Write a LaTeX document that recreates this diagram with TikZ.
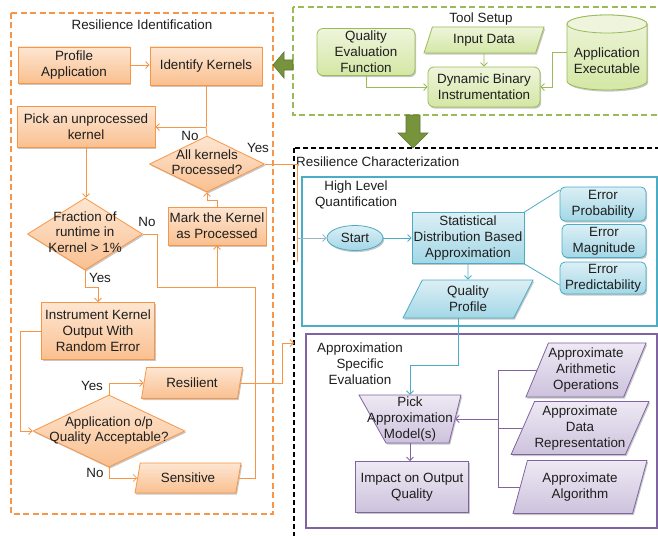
\documentclass[tikz,border=0pt]{standalone}
\usepackage{fontspec}
\setmainfont{Liberation Sans}
\usetikzlibrary{shapes.geometric,arrows.meta,shadows,calc}

\definecolor{orLine}{HTML}{F79646}
\definecolor{orTop}{HTML}{FDE6D2}
\definecolor{orBot}{HTML}{FAC090}
\definecolor{grLine}{HTML}{9BBB59}
\definecolor{grTop}{HTML}{EEF5DC}
\definecolor{grBot}{HTML}{D4E7A4}
\definecolor{grDark}{HTML}{77933C}
\definecolor{grEdge}{HTML}{5E7530}
\definecolor{blLine}{HTML}{4BACC6}
\definecolor{blTop}{HTML}{DCEFF5}
\definecolor{blBot}{HTML}{A3D7E6}
\definecolor{grayLink}{HTML}{9AB6C4}
\definecolor{puLine}{HTML}{8064A2}
\definecolor{puTop}{HTML}{EEE9F4}
\definecolor{puBot}{HTML}{CDC2DD}
\definecolor{ink}{HTML}{1E1E1E}

% text that takes no room, so the shape keeps its set size
\newcommand{\dtxt}[1]{\makebox[0pt]{\smash{\raisebox{-0.25em}{\begin{tabular}{@{}c@{}}#1\end{tabular}}}}}

\tikzset{
  txt/.style={font=\fontsize{13.4}{15.8}\selectfont, text=ink, align=center},
  softshadow/.style={drop shadow={shadow xshift=1.2pt, shadow yshift=-1.6pt, opacity=0.22, fill=black}},
  orfill/.style={draw=orLine, line width=0.8pt, top color=orTop, bottom color=orBot, softshadow},
  grfill/.style={draw=grLine, line width=0.8pt, top color=grTop, bottom color=grBot, softshadow},
  blfill/.style={draw=blLine, line width=0.8pt, top color=blTop, bottom color=blBot, softshadow},
  pufill/.style={draw=puLine, line width=0.8pt, top color=puTop, bottom color=puBot, softshadow},
  boxnode/.style={txt, rectangle, inner sep=1pt},
  roundnode/.style={txt, rectangle, rounded corners=6pt, inner sep=1pt},
  dianode/.style={txt, diamond, inner sep=0pt},
  paranode/.style={txt, trapezium, trapezium stretches body=true, inner sep=0pt},
  tip/.style={-{Straight Barb[length=3.5pt,width=7pt]}},
  oline/.style={orLine, line width=0.8pt},
  gline/.style={grLine, line width=0.8pt},
  bline/.style={blLine, line width=0.8pt},
  pline/.style={puLine, line width=0.8pt},
  lbl/.style={txt, inner sep=0pt},
}

\begin{document}
\begin{tikzpicture}[x=1pt,y=-1pt]
\clip (0,0) rectangle (658,535);

% ---------- region frames ----------
\draw[orLine, line width=1.8pt, dash pattern=on 6pt off 3.5pt] (11,13) rectangle (273,514);
\draw[grLine, line width=1.4pt, dash pattern=on 6pt off 3.5pt] (293,7) rectangle (675,115);
\draw[black, line width=1.8pt, dash pattern=on 5pt off 3pt] (294,148) rectangle (675,550);
\draw[blLine, line width=1.4pt] (302,177) rectangle (657,326);
\draw[puLine, line width=1.4pt] (306,334) rectangle (657,528);

% ---------- region titles ----------
\node[lbl] (tRI) at (142,25) {Resilience Identification};
\node[lbl] (tTS) at (481,19) {Tool Setup};
\node[lbl, anchor=west] (tRC) at (296,162) {Resilience Characterization};
\node[lbl] (tHL) at (356,195) {High Level\\Quantification};
\node[lbl] (tAS) at (360,364) {Approximation\\Specific\\Evaluation};

% ---------- block arrows between regions ----------
\draw[grEdge, line width=0.6pt, fill=grDark]
  (293,60) -- (284,60) -- (284,52) -- (273,65) -- (284,78) -- (284,70) -- (293,70) -- cycle;
\draw[grEdge, line width=0.6pt, fill=grDark]
  (406,115) -- (406,133) -- (398,133) -- (413,148) -- (428,133) -- (420,133) -- (420,115) -- cycle;

% ---------- resilience identification ----------
\node[boxnode, orfill, minimum width=112pt, minimum height=36pt] (prof) at (74,65) {Profile\\Application};
\node[boxnode, orfill, minimum width=112pt, minimum height=38pt] (ik) at (206,66) {Identify Kernels};
\node[boxnode, orfill, minimum width=138pt, minimum height=41pt] (pick) at (86,127) {Pick an unprocessed\\kernel};
\node[dianode, orfill, minimum width=115pt, minimum height=56pt] (d1) at (207,164) {\dtxt{All kernels\\Processed?}};
\node[dianode, orfill, minimum width=115pt, minimum height=72pt] (d2) at (85,234) {\dtxt{Fraction of\\runtime in\\Kernel > 1\%}};
\node[boxnode, orfill, minimum width=98pt, minimum height=38pt] (mark) at (217,226) {Mark the Kernel\\as Processed};
\node[boxnode, orfill, minimum width=113pt, minimum height=57pt] (inst) at (98,331) {Instrument Kernel\\Output With\\Random Error};
\node[dianode, orfill, minimum width=152pt, minimum height=72pt] (d3) at (109,431) {\dtxt{Application o/p\\Quality Acceptable?}};
\node[paranode, orfill, trapezium left angle=63, trapezium right angle=117,
      minimum width=101pt, minimum height=31pt] (res) at (192,383) {Resilient};
\node[paranode, orfill, trapezium left angle=62, trapezium right angle=118,
      minimum width=106pt, minimum height=30pt] (sens) at (188,478) {Sensitive};

% ---------- tool setup ----------
\node[roundnode, grfill, minimum width=98pt, minimum height=47pt] (qef) at (366,52) {Quality\\Evaluation\\Function};
\node[paranode, grfill, trapezium left angle=55, trapezium right angle=125,
      minimum width=120pt, minimum height=26pt] (ind) at (484,40) {Input Data};
\node[roundnode, grfill, minimum width=112pt, minimum height=40pt] (dbi) at (484,87) {Dynamic Binary\\Instrumentation};
% executable drawn as a cylinder
\draw[grLine, line width=0.8pt, top color=grTop, bottom color=grBot, softshadow]
  (567,24) -- (567,81) arc[start angle=180, end angle=360, x radius=40pt, y radius=9pt]
  -- (647,24) arc[start angle=0, end angle=180, x radius=40pt, y radius=9pt] -- cycle;
\draw[grLine, line width=0.8pt, fill=grTop] (607,24) ellipse [x radius=40pt, y radius=9pt];
\node[txt, minimum width=80pt, minimum height=58pt, inner sep=0pt] (exe) at (607,61) {Application\\Executable};

% ---------- high level quantification ----------
\node[txt, ellipse, blfill, minimum width=56pt, minimum height=25pt, inner sep=0pt] (start) at (355,238) {Start};
\node[boxnode, blfill, minimum width=112pt, minimum height=51pt] (sdba) at (468,238) {Statistical\\Distribution Based\\Approximation};
\node[roundnode, blfill, rounded corners=5pt, minimum width=86pt, minimum height=34pt] (ep) at (603,204) {Error\\Probability};
\node[roundnode, blfill, rounded corners=5pt, minimum width=84pt, minimum height=33pt] (em) at (604,241) {Error\\Magnitude};
\node[roundnode, blfill, rounded corners=5pt, minimum width=86pt, minimum height=32pt] (epr) at (603,278) {Error\\Predictability};
\node[paranode, blfill, trapezium left angle=53, trapezium right angle=127,
      minimum width=130pt, minimum height=38pt] (qp) at (468,299) {Quality\\Profile};

% ---------- approximation specific evaluation ----------
% model picker: a trapezoid, wide side on top
\coordinate (pamc) at (410,419);
\path[pufill] ($(pamc)+(-51,-24)$) -- ($(pamc)+(51,-24)$) -- ($(pamc)+(39,24)$) -- ($(pamc)+(-24,24)$) -- cycle;
\node[txt, rectangle, inner sep=0pt, minimum width=102pt, minimum height=48pt] (pam) at (pamc) {Pick\\Approximation\\Model(s)};
\node[boxnode, pufill, minimum width=113pt, minimum height=51pt] (imp) at (412,487) {Impact on Output\\Quality};
\node[paranode, pufill, trapezium left angle=63, trapezium right angle=117,
      minimum width=118pt, minimum height=54pt] (aao) at (586,370) {Approximate\\Arithmetic\\Operations};
\node[paranode, pufill, trapezium left angle=62, trapezium right angle=118,
      minimum width=135pt, minimum height=53pt] (adr) at (580,428) {Approximate\\Data\\Representation};
\node[paranode, pufill, trapezium left angle=63, trapezium right angle=117,
      minimum width=134pt, minimum height=53pt] (aa) at (580,487) {Approximate\\Algorithm};

% ---------- connectors: identification ----------
\coordinate (j1) at (ik.south |- pick.east);
\coordinate (jm) at (mark.south |- 0,287);
\coordinate (rcin) at (294,343);
\coordinate (jy) at (297,238);
\draw[oline, tip] (prof.east) -- (prof.east -| ik.west);
\draw[oline] (ik.south) -- (j1);
\draw[oline] (d1.north) -- (j1);
\draw[oline, tip] (j1) -- (pick.east);
\draw[oline, tip] (pick.south) -- (pick.south |- d2.north);
\draw[oline] (d2.east) -| (157,287) -- (jm);
\draw[oline] (sens.east) -| (255,287) -- (jm);
\draw[oline, tip] (jm) -- (mark.south);
\draw[oline, tip] (mark.north) -- ++(0,-6) -| (d1.south);
\draw[oline, tip] (d2.south) -- ++(0,17) -| (inst.north);
\draw[oline, tip] (inst.west) -- (inst.west -| 20,0) |- (d3.west);
\draw[oline, tip] (d3.north) |- (res.west);
\draw[oline, tip] (d3.south) |- (sens.west);
\draw[oline, tip] (res.east) -| (282,343) -- (rcin);
\draw[oline] (d1.east) -| (297,262);
\draw[grayLink, line width=0.8pt, tip] (jy) -- (start.west);

\node[lbl] (lNo1) at (190,136) {No};
\node[lbl] (lYes1) at (258,148) {Yes};
\node[lbl] (lNo2) at (147,222) {No};
\node[lbl] (lYes2) at (100,278) {Yes};
\node[lbl] (lYes3) at (92,386) {Yes};
\node[lbl] (lNo3) at (95,473) {No};

% ---------- connectors: tool setup ----------
\draw[gline, tip] (qef.south) |- (dbi.west);
\draw[gline, tip] (ind.south) -- (dbi.north);
\draw[gline, tip] ([yshift=9pt]exe.west) -- ++(-14,0) |- (dbi.east);

% ---------- connectors: quantification ----------
\draw[bline, tip] (start.east) -- (sdba.west);
\draw[bline] (sdba.north east) -- ([yshift=14pt]ep.west);
\draw[bline] (sdba.south east) -- ([yshift=-7pt]epr.west);
\draw[bline, tip] (sdba.south) -- (qp.north);
\draw[bline, tip] (qp.bottom side) -- (qp.bottom side |- 0,365) -| (pam.north);

% ---------- connectors: evaluation ----------
\coordinate (bus) at (498,0);
\draw[pline, tip] (pam.south) -- (pam.south |- imp.north);
\draw[pline] (aao.west) -- (aao.west -| bus) -- (aa.west -| bus) -- (aa.west);
\draw[pline] (adr.west) -- (adr.west -| bus);
\draw[pline, tip] (pam.east -| bus) -- ([xshift=-6pt]pam.east);

\end{tikzpicture}
\end{document}
